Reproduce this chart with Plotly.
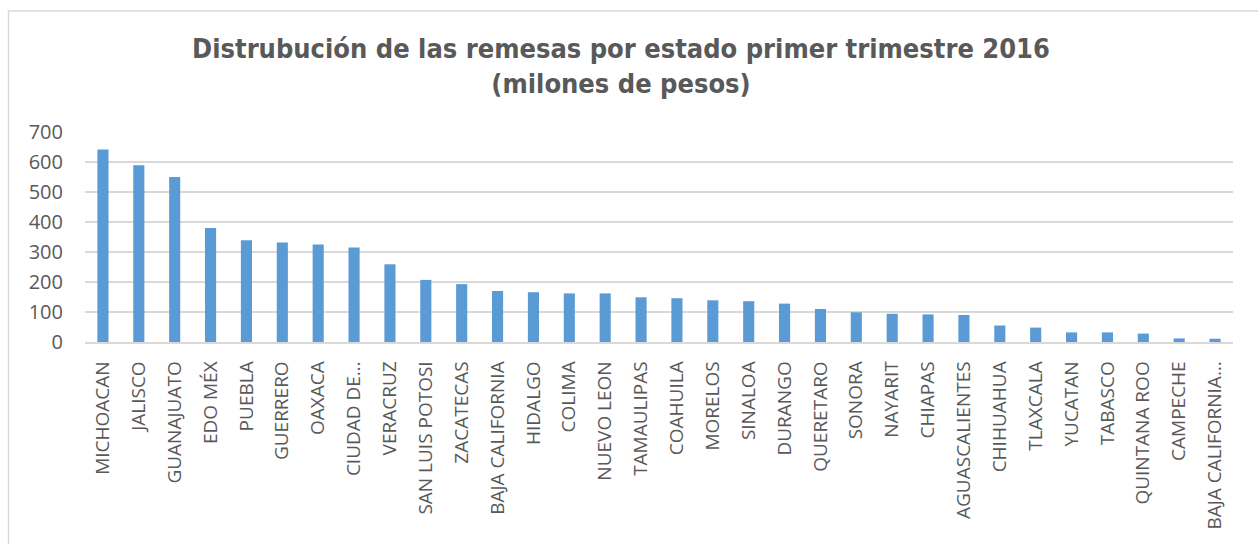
import plotly.graph_objects as go

estados = ["MICHOACAN", "JALISCO", "GUANAJUATO", "EDO MÉX", "PUEBLA", "GUERRERO",
           "OAXACA", "CIUDAD DE…", "VERACRUZ", "SAN LUIS POTOSI", "ZACATECAS",
           "BAJA CALIFORNIA", "HIDALGO", "COLIMA", "NUEVO LEON", "TAMAULIPAS",
           "COAHUILA", "MORELOS", "SINALOA", "DURANGO", "QUERETARO", "SONORA",
           "NAYARIT", "CHIAPAS", "AGUASCALIENTES", "CHIHUAHUA", "TLAXCALA",
           "YUCATAN", "TABASCO", "QUINTANA ROO", "CAMPECHE", "BAJA CALIFORNIA…"]
remesas = [642, 589, 550, 380, 339, 332, 325, 315, 259, 207, 193, 170, 166, 162,
           162, 149, 146, 139, 136, 128, 110, 99, 94, 92, 90, 55, 48, 32, 32, 28, 12, 11]
y_ticks = [0, 100, 200, 300, 400, 500, 600, 700]

W, H = 1258, 544
L, R, T, B = 85, 25, 132, 202
pw, ph = W - L - R, H - T - B

def px(x):
    return (x - L) / pw

def py(y):
    return (H - B - y) / ph

fig = go.Figure(go.Bar(
    x=estados, y=remesas, marker_color="#5B9BD5",
    marker_line_width=0,
))

fig.update_layout(
    width=W, height=H,
    margin=dict(l=L, r=R, t=T, b=B),
    paper_bgcolor="white", plot_bgcolor="white",
    bargap=0.69,
    showlegend=False,
    title=dict(
        text="Distrubución de las remesas por estado primer trimestre 2016<br>(milones de pesos)",
        x=621 / W, xanchor="center", xref="container",
        y=1 - 58 / H, yanchor="middle",
        font=dict(family="Liberation Sans Narrow, Arial Narrow, DejaVu Sans Condensed, sans-serif",
                  size=27, color="#595959", weight="bold"),
    ),
    font=dict(family="Open Sans, sans-serif", color="#595959"),
    xaxis=dict(
        tickangle=-90, tickfont=dict(size=19, color="#595959"),
        showgrid=False, showline=True, linecolor="#D9D9D9", linewidth=1.5,
        ticks="", fixedrange=True, ticklabelstandoff=10,
    ),
    yaxis=dict(
        range=[0, 700], tickvals=y_ticks, tickfont=dict(size=20, color="#595959"),
        showgrid=True, gridcolor="#D9D9D9", gridwidth=1.5, zeroline=False,
        showline=False, ticks="", ticklabelstandoff=21,
    ),
    shapes=[dict(
        type="rect", xref="paper", yref="paper",
        x0=px(8.5), x1=px(1300), y0=py(11), y1=py(600),
        line=dict(color="#D9D9D9", width=1.5), fillcolor="rgba(0,0,0,0)", layer="below",
    )],
)

fig.write_html("out.html")
